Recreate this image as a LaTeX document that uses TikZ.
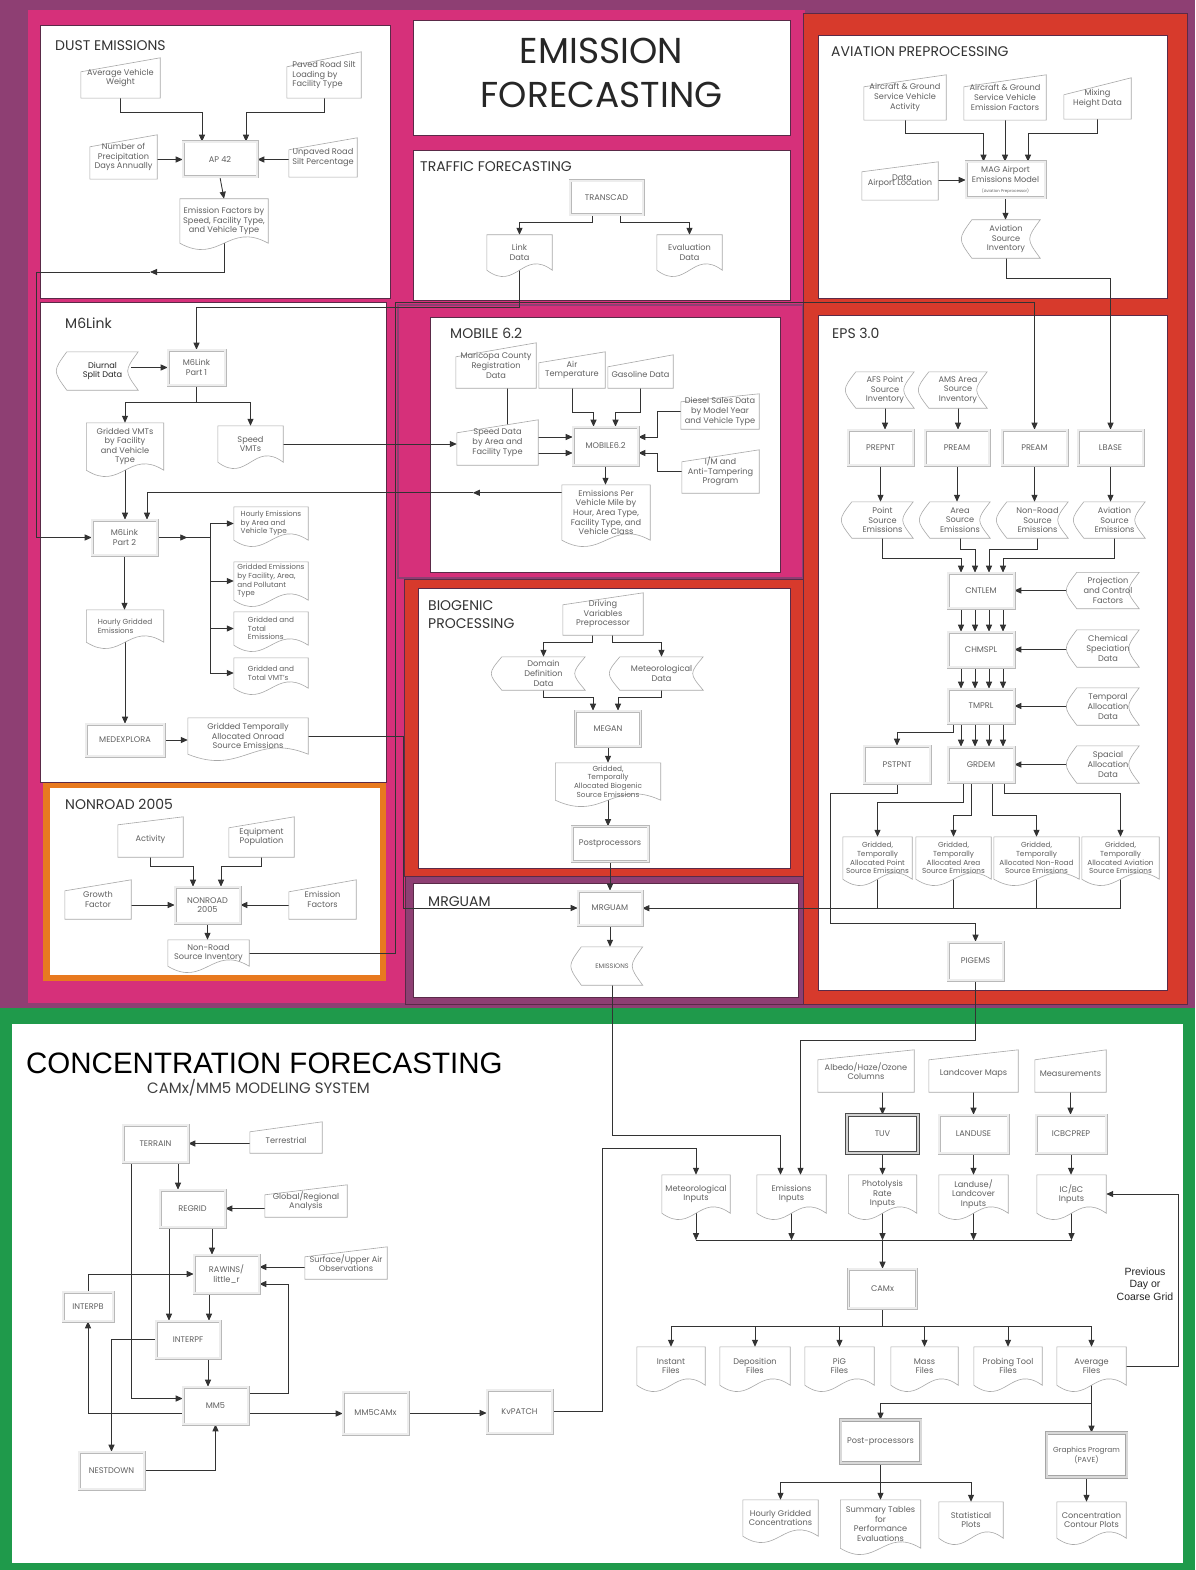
\documentclass[tikz,border=0pt]{standalone}
\usepackage{fontspec}
\setmainfont{Poppins}
\newfontfamily\arialf{Liberation Sans}
\usetikzlibrary{arrows.meta,calc}
\definecolor{purp}{HTML}{8E3F73}
\definecolor{pinkc}{HTML}{D6307A}
\definecolor{redc}{HTML}{D73A2C}
\definecolor{orangec}{HTML}{E8791F}
\definecolor{greenc}{HTML}{1F9A4B}
\definecolor{edgec}{HTML}{5A2A48}
\definecolor{txtc}{HTML}{606060}
\definecolor{linec}{HTML}{333333}
\definecolor{shpc}{HTML}{A8A8A8}
\pgfdeclarelayer{back}
\pgfdeclarelayer{conn}
\pgfdeclarelayer{shapes}
\pgfsetlayers{back,conn,shapes,main}
\begin{document}
\begin{tikzpicture}[x=1pt,y=-1pt,
 every node/.style={font=\fontsize{8.2}{9.6}\selectfont, text=txtc, align=center, inner sep=1pt},
 sz/.style 2 args={minimum width=#1pt, minimum height=#2pt},
 proc/.style={draw=gray!55, double=gray!14, double distance=1.9pt, line width=0.55pt, fill=white},
 procd/.style={draw=gray!70, double=gray!30, double distance=2pt, line width=0.6pt, fill=white},
 procdd/.style={draw=gray!60!black, double=gray!35, double distance=2pt, line width=0.6pt, fill=white},
 manin/.style={execute at begin node={\rule{0pt}{12pt}}},
 shp/.style={draw=shpc, line width=0.6pt, fill=white},
 arr/.style={draw=linec, line width=0.85pt, -{Triangle[length=7pt,width=6pt]}},
 ln/.style={draw=linec, line width=0.85pt},
 wbox/.style={fill=white, draw=edgec, line width=0.5pt},
 sect/.style={font=\fontsize{14}{18}\selectfont, text=black!80, anchor=base west, inner sep=0pt},
 lefttx/.style={align=left},
 small/.style={font=\fontsize{7.3}{8.6}\selectfont},
]
\useasboundingbox (0,0) rectangle (1195,1570);
% ---------------- backgrounds ----------------
\begin{pgfonlayer}{back}
\fill[purp] (0,0) rectangle (1195,1010);
\fill[pinkc] (28,10) rectangle (805,1003);
\draw[purp, line width=2pt, fill=pinkc] (398,305) rectangle (803,578);
\filldraw[fill=redc, draw=edgec, line width=0.5pt] (404,579) rectangle (808,876);
\filldraw[fill=purp, draw=edgec, line width=0.5pt] (405,876) rectangle (805,1004);
\filldraw[fill=redc, draw=edgec, line width=0.5pt] (803,13) rectangle (1187,1004);
\filldraw[wbox] (40,25) rectangle (390,298);
\filldraw[wbox] (413,20) rectangle (790,135);
\filldraw[wbox] (413,150) rectangle (790,300);
\filldraw[wbox] (818,35) rectangle (1167,298);
\filldraw[wbox] (40,302) rectangle (386,782);
\filldraw[wbox] (430,317) rectangle (780,572);
\filldraw[wbox] (418,588) rectangle (790,868);
\filldraw[wbox] (413,883) rectangle (798,997);
\filldraw[wbox] (818,315) rectangle (1167,990);
\fill[orangec] (43,783) rectangle (386,981);
\fill[white] (50,788) rectangle (380,975);
\fill[greenc] (0,1008) rectangle (1195,1570);
\fill[white] (12,1024) rectangle (1183,1563);
\end{pgfonlayer}

% ---------------- DUST ----------------
\node[sect] (tdust) at (55,51) {DUST EMISSIONS};
\node[manin,sz={79}{40}] (avw) at (120.5,78) {Average Vehicle\\Weight};
\node[manin,sz={74}{46},lefttx] (prs) at (324,75) {Paved Road Silt\\Loading by\\Facility Type};
\node[manin,sz={67}{44}] (npd) at (123.5,157) {Number of\\Precipitation\\Days Annually};
\node[manin,sz={68}{39}] (upr) at (323,157.5) {Unpaved Road\\Silt Percentage};
\node[proc,sz={74}{35}] (ap42) at (220,159.5) {AP 42};
\node[sz={88}{44}] (efs) at (224,221) {Emission Factors by\\Speed, Facility Type,\\and Vehicle Type};

% ---------------- TITLE / TRAFFIC ----------------
\node[font=\fontsize{36}{44}\selectfont, text=black!85] (tef) at (601.5,72.5) {EMISSION\\FORECASTING};
\node[sect] (ttraf) at (420,172) {TRAFFIC FORECASTING};
\node[proc,sz={73}{34}] (transcad) at (606.5,198) {TRANSCAD};
\node[sz={65}{35}] (linkd) at (519.5,252.5) {Link\\Data};
\node[sz={65}{35}] (evald) at (689.5,252.5) {Evaluation\\Data};

% ---------------- AVIATION ----------------
\node[sect] (tav) at (831,57) {AVIATION PREPROCESSING};
\node[manin,sz={82}{45}] (agsa) at (905,97.5) {Aircraft \& Ground\\Service Vehicle\\Activity};
\node[manin,sz={82}{45}] (agse) at (1005,97.5) {Aircraft \& Ground\\Service Vehicle\\Emission Factors};
\node[manin,sz={67}{41}] (mhd) at (1097.5,98.5) {Mixing\\Height Data};
\node[manin,sz={76}{38}] (apd) at (900,181) {Airport Location};
\node (apdx) at (902,178) {Data};
\node[proc,sz={79}{36}] (mag) at (1005.5,180) {MAG Airport\\Emissions Model\\{\fontsize{4}{5}\selectfont(Aviation Preprocessor)}};
\node[sz={68}{38}] (asi) at (1006,239) {Aviation\\Source\\Inventory};

% ---------------- M6LINK ----------------
\node[sect] (tm6) at (65,328) {M6Link};
\node[proc,sz={57}{35}] (m6p1) at (196.5,367.5) {M6Link\\Part 1};
\node[sz={71}{38}, text=black!85] (dsd) at (102.5,371) {Diurnal\\Split Data};
\node[sz={77}{47}] (gvmt) at (125,446.5) {Gridded VMTs\\by Facility\\and Vehicle\\Type};
\node[sz={65}{36}] (svmt) at (250.5,444) {Speed\\VMTs};
\node[proc,sz={65}{35}] (m6p2) at (124.5,537.5) {M6Link\\Part 2};
\node[lefttx,small,sz={74}{33}] (hev) at (271,523.5) {Hourly Emissions\\by Area and\\Vehicle Type};
\node[lefttx,small,sz={74}{38}] (gef) at (271,581) {Gridded Emissions\\by Facility, Area,\\and Pollutant\\Type};
\node[lefttx,small,sz={74}{33}] (gte) at (271,628.5) {Gridded and\\Total\\Emissions};
\node[lefttx,small,sz={74}{30}] (gtv) at (271,673) {Gridded and\\Total VMT's};
\node[lefttx,small,sz={77}{32}] (hge) at (125,626) {Hourly Gridded\\Emissions};
\node[proc,sz={78}{32}] (medx) at (125,740) {MEDEXPLORA};
\node[sz={120}{36}] (gtao) at (248,736) {Gridded Temporally\\Allocated Onroad\\Source Emissions};

% ---------------- NONROAD ----------------
\node[sect] (tnr) at (65,809) {NONROAD 2005};
\node[manin,sz={65}{40}] (act) at (150.5,837) {Activity};
\node[manin,sz={65}{40}] (eqp) at (261.5,837) {Equipment\\Population};
\node[manin,sz={66}{39}] (grf) at (98,899.5) {Growth\\Factor};
\node[proc,sz={65}{36}] (nr05) at (207.5,905) {NONROAD\\2005};
\node[manin,sz={67}{39}] (emf) at (322.5,899.5) {Emission\\Factors};
\node[sz={81}{26}] (nri) at (208.5,953) {Non-Road\\Source Inventory};

% ---------------- MOBILE ----------------
\node[sect] (tmob) at (450,338) {MOBILE 6.2};
\node[manin,sz={80}{45}] (mcr) at (496,365.5) {Maricopa County\\Registration\\Data};
\node[manin,sz={66}{36}] (airt) at (572,370) {Air\\Temperature};
\node[manin,sz={65}{33}] (gd) at (640.5,371.5) {Gasoline Data};
\node[manin,sz={78}{35}] (dsd2) at (720,411.5) {Diesel Sales Data\\by Model Year\\and Vehicle Type};
\node[manin,sz={81}{45}] (sdaf) at (497.5,442.5) {Speed Data\\by Area and\\Facility Type};
\node[proc,sz={65}{38}] (mob) at (605.5,446) {MOBILE6.2};
\node[manin,sz={77}{43}] (imat) at (720.5,471.5) {I/M and\\Anti-Tampering\\Program};
\node[sz={88}{55}] (epvm) at (606,512.5) {Emissions Per\\Vehicle Mile by\\Hour, Area Type,\\Facility Type, and\\Vehicle Class};

% ---------------- BIOGENIC ----------------
\node[sect] (tbio1) at (428,610) {BIOGENIC};
\node[sect] (tbio2) at (428,628) {PROCESSING};
\node[manin,sz={80}{42}] (dvp) at (603,614) {Driving\\Variables\\Preprocessor};
\node[sz={83}{33}] (ddd) at (543.5,673.5) {Domain\\Definition\\Data};
\node[sz={83}{33}] (md) at (661.5,673.5) {Meteorological\\Data};
\node[proc,sz={65}{35}] (megan) at (608,728.5) {MEGAN};
\node[small,sz={105}{37}] (gtab) at (608,781.5) {Gridded,\\Temporally\\Allocated Biogenic\\Source Emissions};
\node[proc,sz={76}{35}] (postp) at (610,844) {Postprocessors};

% ---------------- MRGUAM ----------------
\node[sect] (tmrg) at (428,906) {MRGUAM};
\node[proc,sz={64}{34}] (mrguam) at (610,908) {MRGUAM};
\node[sz={61}{38}, font=\fontsize{6.5}{7.5}\selectfont] (emis) at (612,966) {EMISSIONS};

% ---------------- EPS ----------------
\node[sect] (teps) at (832,338) {EPS 3.0};
\node[sz={58}{36}] (afs) at (885,390) {AFS Point\\Source\\Inventory};
\node[sz={58}{36}] (ams) at (958,390) {AMS Area\\Source\\Inventory};
\node[proc,sz={65}{35}] (prepnt) at (880.5,447.5) {PREPNT};
\node[proc,sz={64}{35}] (pream1) at (957,447.5) {PREAM};
\node[proc,sz={65}{35}] (pream2) at (1034.5,447.5) {PREAM};
\node[proc,sz={65}{35}] (lbase) at (1110.5,447.5) {LBASE};
\node[sz={61}{36}] (pse) at (882.5,520) {Point\\Source\\Emissions};
\node[sz={60}{36}] (ase) at (960,520) {Area\\Source\\Emissions};
\node[sz={61}{36}] (nse) at (1037.5,520) {Non-Road\\Source\\Emissions};
\node[sz={61}{36}] (avse) at (1114.5,520) {Aviation\\Source\\Emissions};
\node[proc,sz={66}{35}] (cntlem) at (981,590.5) {CNTLEM};
\node[sz={62}{36}] (pcf) at (1108,590.5) {Projection\\and Control\\Factors};
\node[proc,sz={66}{35}] (chmspl) at (981,649.5) {CHMSPL};
\node[sz={62}{37}] (csd) at (1108,648.5) {Chemical\\Speciation\\Data};
\node[proc,sz={66}{34}] (tmprl) at (981,706) {TMPRL};
\node[sz={62}{37}] (tad) at (1108,706.5) {Temporal\\Allocation\\Data};
\node[proc,sz={66}{35}] (grdem) at (981,764.5) {GRDEM};
\node[sz={62}{37}] (sad) at (1108,764.5) {Spacial\\Allocation\\Data};
\node[proc,sz={66}{37}] (pstpnt) at (897,764.5) {PSTPNT};
\node[small,sz={69}{42}] (gtp) at (877.5,858) {Gridded,\\Temporally\\Allocated Point\\Source Emissions};
\node[small,sz={75}{42}] (gta) at (953.5,858) {Gridded,\\Temporally\\Allocated Area\\Source Emissions};
\node[small,sz={85}{42}] (gtn) at (1036.5,858) {Gridded,\\Temporally\\Allocated Non-Road\\Source Emissions};
\node[small,sz={77}{42}] (gtav) at (1120.5,858) {Gridded,\\Temporally\\Allocated Aviation\\Source Emissions};
\node[proc,sz={55}{38}] (pigems) at (975.5,961) {PIGEMS};

% ---------------- CONCENTRATION ----------------
\node[font=\arialf\fontsize{29.5}{34}\selectfont, text=black, anchor=base west, inner sep=0pt] (tconc) at (26,1073) {CONCENTRATION FORECASTING};
\node[font=\fontsize{15}{18}\selectfont, text=black!75, anchor=base west, inner sep=0pt] (tcamx) at (147,1093) {CAMx/MM5 MODELING SYSTEM};
\node[proc,sz={65}{37}] (terrain) at (155.5,1143.5) {TERRAIN};
\node[manin,sz={72}{31}] (terr) at (286,1137.5) {Terrestrial};
\node[proc,sz={65}{37}] (regrid) at (192.5,1208.5) {REGRID};
\node[manin,sz={82}{32}] (gra) at (306,1201) {Global/Regional\\Analysis};
\node[proc,sz={65}{38}] (rawins) at (226.5,1274) {RAWINS/\\little\_r};
\node[manin,sz={82}{32}] (sua) at (346,1263) {Surface/Upper Air\\Observations};
\node[proc,sz={50}{29}] (interpb) at (88,1306.5) {INTERPB};
\node[proc,sz={64}{37}] (interpf) at (188,1339.5) {INTERPF};
\node[proc,sz={65}{37}] (mm5) at (215.5,1405.5) {MM5};
\node[proc,sz={65}{42}] (mm5camx) at (375.5,1413) {MM5CAMx};
\node[proc,sz={65}{43}] (kvpatch) at (519.5,1411.5) {KvPATCH};
\node[proc,sz={65}{37}] (nestdown) at (111.5,1470.5) {NESTDOWN};

\node[manin,sz={96}{42}] (alb) at (866,1071) {Albedo/Haze/Ozone\\Columns};
\node[manin,sz={89}{42}] (lcm) at (973.5,1071) {Landcover Maps};
\node[manin,sz={71}{42}] (meas) at (1070.5,1071) {Measurements};
\node[procdd,sz={71}{38}] (tuv) at (882.5,1134) {TUV};
\node[proc,sz={69}{38}] (landuse) at (973.5,1134) {LANDUSE};
\node[proc,sz={70}{38}] (icbcprep) at (1071,1134) {ICBCPREP};
\node[sz={68}{38}] (met) at (696,1194) {Meteorological\\Inputs};
\node[sz={69}{38}] (emi) at (791.5,1194) {Emissions\\Inputs};
\node[sz={68}{38}] (phot) at (882.5,1194) {Photolysis\\Rate\\Inputs};
\node[sz={69}{38}] (lui) at (973.5,1194) {Landuse/\\Landcover\\Inputs};
\node[sz={69}{38}] (icbc) at (1071.5,1194) {IC/BC\\Inputs};
\node[proc,sz={68}{39}] (camx) at (882.5,1288.5) {CAMx};
\node[sz={68}{38}] (instant) at (671,1366) {Instant\\Files};
\node[sz={70}{38}] (depo) at (755,1366) {Deposition\\Files};
\node[sz={69}{38}] (pig) at (839.5,1366) {PiG\\Files};
\node[sz={67}{38}] (mass) at (924.5,1366) {Mass\\Files};
\node[sz={68}{38}] (probe) at (1008,1366) {Probing Tool\\Files};
\node[sz={69}{38}] (avg) at (1091.5,1366) {Average\\Files};
\node[font=\arialf\fontsize{10.5}{12.5}\selectfont, text=black!85] (prevlbl) at (1145,1284) {Previous\\Day or\\Coarse Grid};
\node[procd,sz={80}{43}] (post) at (880.5,1441.5) {Post-processors};
\node[procd,small,sz={80}{44}] (gp) at (1086.5,1455) {Graphics Program\\(PAVE)};
\node[sz={75}{36}] (hgc) at (780.5,1518) {Hourly Gridded\\Concentrations};
\node[sz={80}{48}] (stp) at (880.5,1524) {Summary Tables\\for\\Performance\\Evaluations};
\node[sz={64}{36}] (stat) at (971,1520) {Statistical\\Plots};
\node[sz={69}{36}] (ccp) at (1091.5,1520) {Concentration\\Contour Plots};

% ---------------- shape outlines ----------------
\begin{pgfonlayer}{shapes}
\foreach \n/\s in {avw/14,prs/15,npd/12,upr/12,agsa/12,agse/12,mhd/17,apd/10,mcr/14,airt/11,gd/12,dsd2/8,sdaf/13,imat/12,dvp/12,act/8,eqp/11,grf/11,emf/12,alb/10,lcm/10,meas/10,terr/10,gra/10,sua/10}
  \draw[shp] (\n.south west) -- (\n.south east) -- (\n.north east) -- ($(\n.north west)+(0,\s)$) -- cycle;
\foreach \n in {efs,linkd,evald,gvmt,svmt,hev,gef,gte,gtv,hge,gtao,epvm,gtab,nri,gtp,gta,gtn,gtav,met,emi,phot,lui,icbc,instant,depo,pig,mass,probe,avg,hgc,stp,stat,ccp}
  \draw[shp] (\n.south west) -- (\n.north west) -- (\n.north east) -- (\n.south east)
    .. controls ($(\n.south west)!0.55!(\n.south east)+(0,-22)$) and ($(\n.south west)!0.45!(\n.south east)+(0,22)$) .. (\n.south west);
\foreach \n in {dsd,asi,afs,ams,pse,ase,nse,avse,pcf,csd,tad,sad,ddd,md,emis}
  \draw[shp] (\n.north west) -- (\n.north east) .. controls ($(\n.north east)!0.5!(\n.south east)+(-14,0)$) .. (\n.south east) -- (\n.south west) .. controls ($(\n.south west)!0.5!(\n.north west)+(-14,0)$) .. (\n.north west) -- cycle;
\end{pgfonlayer}

\begin{pgfonlayer}{conn}
% dust
\draw[arr] (avw.south) -- ++(0,14) -| ([xshift=-18pt]ap42.north);
\draw[arr] (prs.south) -- ++(0,14) -| ([xshift=26pt]ap42.north);
\draw[arr] (npd.east |- ap42) -- (ap42.west);
\draw[arr] (upr.west |- ap42) -- (ap42.east);
\draw[arr] (ap42.south) -- (efs.north);
\coordinate (dustmid) at (150,272);
\coordinate (dustL) at (36,272);
\draw[arr] (efs.south) |- (dustmid);
\draw[arr] (dustmid) -- (dustL) |- (m6p2.west);

% traffic
\draw[arr] ([xshift=-14.5pt]transcad.south) -- ++(0,7) -| (linkd.north);
\draw[arr] ([xshift=13.5pt]transcad.south) -- ++(0,7) -| (evald.north);
\draw[arr] (linkd.south) -- ++(0,37) -| (m6p1.north);

% aviation
\draw[arr] (agsa.south) -- ++(0,13) -| ([xshift=-22pt]mag.north);
\draw[arr] (agse.south) -- (agse.south |- mag.north);
\draw[arr] (mhd.south) -- ++(0,14) -| ([xshift=22.5pt]mag.north);
\draw[arr] (apd.east |- mag) -- (mag.west);
\draw[arr] (mag.south) -- (mag.south |- asi.north);
\draw[arr] (asi.south) -- ++(0,20) -| (lbase.north);

% m6link
\draw[arr] ([xshift=-7pt]dsd.east |- m6p1) -- (m6p1.west);
\draw[arr] (m6p1.south) -- ++(0,17) -| (gvmt.north);
\draw[arr] (m6p1.south) -- ++(0,17) -| (svmt.north);
\draw[arr] (svmt.east) -- (svmt.east -| sdaf.west);
\draw[arr] (gvmt.south) -- (gvmt.south |- m6p2.north);
\coordinate (epvmout) at ($(epvm.north west)+(0,8)$);
\coordinate (epvmmid) at ($(epvmout)+(-89,0)$);
\draw[arr] (epvmout) -- (epvmmid);
\draw[arr] (epvmmid) -| ([xshift=22.5pt]m6p2.north);
\draw[arr] (m6p2.east) -- ++(30,0);
\draw[ln] (m6p2.east) -- ++(53,0) coordinate (m6bus);
\draw[ln] (m6bus |- hev.west) -- (m6bus |- gtv.west);
\foreach \d in {hev,gef,gte,gtv} \draw[arr] (m6bus |- \d.west) -- (\d.west);
\draw[arr] (m6p2.south) -- (m6p2.south |- hge.north);
\draw[arr] (hge.south) -- (hge.south |- medx.north);
\draw[arr] (medx.east) -- (medx.east -| gtao.west);
\draw[arr] (gtao.east) -- ++(95,0) |- (mrguam.west);

% nonroad
\draw[arr] (act.south) -- ++(0,9) -| ([xshift=-14.5pt]nr05.north);
\draw[arr] (eqp.south) -- ++(0,9) -| ([xshift=13.5pt]nr05.north);
\draw[arr] (grf.east |- nr05) -- (nr05.west);
\draw[arr] (emf.west |- nr05) -- (nr05.east);
\draw[arr] (nr05.south) -- (nr05.south |- nri.north);
\coordinate (nrturn) at (395,302);
\draw[arr] (nri.east) -| (nrturn) -| (pream2.north);

% mobile
\draw[arr] ([xshift=11pt]mcr.south) |- ([yshift=9pt]mob.west);
\draw[arr] ([yshift=-7pt]mob.west -| sdaf.east) -- ([yshift=-7pt]mob.west);
\draw[arr] (airt.south) -- ++(0,24) -| ([xshift=-12pt]mob.north);
\draw[arr] (gd.south) -- ++(0,24) -| ([xshift=10pt]mob.north);
\draw[arr] (dsd2.west) -- ++(-23,0) |- ([yshift=9pt]mob.east);
\draw[arr] (imat.west) -- ++(-24,0) |- ([yshift=-7pt]mob.east);
\draw[arr] (mob.south) -- (mob.south |- epvm.north);

% biogenic
\draw[arr] ([xshift=-11pt]dvp.south) -- ++(0,7) -| (ddd.north);
\draw[arr] ([xshift=9pt]dvp.south) -- ++(0,7) -| (md.north);
\draw[arr] (ddd.south) -- ++(0,7) -| ([xshift=-15pt]megan.north);
\draw[arr] (md.south) -- ++(0,7) -| ([xshift=10pt]megan.north);
\draw[arr] (megan.south) -- (megan.south |- gtab.north);
\draw[arr] (gtab.south) -- (gtab.south |- postp.north);
\draw[arr] (postp.south) -- (postp.south |- mrguam.north);
\draw[arr] (mrguam.south) -- (mrguam.south |- emis.north);

% eps
\draw[arr] (afs.south) -- (afs.south |- prepnt.north);
\draw[arr] (ams.south) -- (ams.south |- pream1.north);
\draw[arr] (prepnt.south) -- (prepnt.south |- pse.north);
\draw[arr] (pream1.south) -- (pream1.south |- ase.north);
\draw[arr] (pream2.south) -- (pream2.south |- nse.north);
\draw[arr] (lbase.south) -- (lbase.south |- avse.north);
\draw[arr] (pse.south) -- ++(0,20) -| ([xshift=-20pt]cntlem.north);
\draw[arr] (ase.south) -- ++(0,11) -| ([xshift=-6pt]cntlem.north);
\draw[arr] (nse.south) -- ++(0,11) -| ([xshift=8pt]cntlem.north);
\draw[arr] (avse.south) -- ++(0,20) -| ([xshift=22pt]cntlem.north);
\draw[arr] ([xshift=-7pt]pcf.west) -- (cntlem.east);
\draw[arr] ([xshift=-7pt]csd.west |- chmspl) -- (chmspl.east);
\draw[arr] ([xshift=-7pt]tad.west |- tmprl) -- (tmprl.east);
\draw[arr] ([xshift=-7pt]sad.west |- grdem) -- (grdem.east);
\foreach \o in {-20,-6,8,22} {
  \draw[arr] ([xshift=\o pt]cntlem.south) -- ([xshift=\o pt]chmspl.north);
  \draw[arr] ([xshift=\o pt]chmspl.south) -- ([xshift=\o pt]tmprl.north);
  \draw[arr] ([xshift=\o pt]tmprl.south) -- ([xshift=\o pt]grdem.north);
}
\draw[arr] ([xshift=-28pt]tmprl.south) -- ++(0,9) -| (pstpnt.north);
\draw[arr] ([xshift=-18pt]grdem.south) -- ++(0,20) -| (gtp.north);
\draw[arr] ([xshift=-10pt]grdem.south) -- ++(0,33) -| (gta.north);
\draw[arr] ([xshift=11pt]grdem.south) -- ++(0,33) -| (gtn.north);
\draw[arr] ([xshift=23pt]grdem.south) -- ++(0,11) -| (gtav.north);
\draw[ln] (gtav.south) -- ++(0,29) coordinate (epsbus);
\foreach \d in {gtp,gta,gtn} \draw[ln] (\d.south) -- (\d.south |- epsbus);
\draw[arr] (epsbus) -- (epsbus -| mrguam.east);
\draw[arr] (pstpnt.south) -- ++(0,10) -- ++(-67,0) -- ++(0,130) -| (pigems.north);
\draw[arr] (pigems.south) -- ++(0,60) -| ([xshift=9pt]emi.north);
\draw[arr] (emis.south) -- ++(0,150) -| ([xshift=-11pt]emi.north);

% concentration left
\draw[arr] (terr.west |- terrain) -- (terrain.east);
\draw[arr] ([xshift=22.5pt]terrain.south) -- ([xshift=22.5pt]terrain.south |- regrid.north);
\draw[arr] ([xshift=-24.5pt]terrain.south) |- ([yshift=7pt]mm5.west);
\draw[arr] (gra.west |- regrid) -- (regrid.east);
\draw[arr] ([xshift=19.5pt]regrid.south) -- ([xshift=19.5pt]regrid.south |- rawins.north);
\draw[arr] ([xshift=-23.5pt]regrid.south) -- ([xshift=-23.5pt]regrid.south |- interpf.north);
\draw[arr] ([yshift=7pt]rawins.east -| sua.west) -- ([yshift=7pt]rawins.east);
\draw[arr] (interpb.north) |- (rawins.west);
\draw[arr] ([xshift=-17.5pt]rawins.south) -- ([xshift=-17.5pt]rawins.south |- interpf.north);
\draw[arr] ([yshift=12.5pt]mm5.east) -- ++(40,0) |- ([yshift=-10pt]rawins.east);
\draw[arr] ([xshift=20pt]interpf.south) -- ([xshift=20pt]interpf.south |- mm5.north);
\draw[arr] (interpf.west) -| (nestdown.north);
\draw[arr] ([yshift=-8pt]mm5.west) -| (interpb.south);
\draw[arr] (nestdown.east) -| (mm5.south);
\draw[arr] ([yshift=-8pt]mm5.east) -- ([yshift=-8pt]mm5.east -| mm5camx.west);
\draw[arr] (mm5camx.east) -- (mm5camx.east -| kvpatch.west);
\draw[arr] (kvpatch.east) -- ++(50,0) |- ([yshift=26pt]met.north) -- (met.north);

% concentration right
\draw[arr] (tuv.north |- alb.south) -- (tuv.north);
\draw[arr] (lcm.south) -- (landuse.north);
\draw[arr] (meas.south) -- (meas.south |- icbcprep.north);
\draw[arr] (tuv.south) -- (tuv.south |- phot.north);
\draw[arr] (landuse.south) -- (lui.north);
\draw[arr] (icbcprep.south) -- (icbcprep.south |- icbc.north);
\foreach \d in {met,emi,phot,lui,icbc} \draw[arr] (\d.south) -- ++(0,27);
\draw[ln] ($(met.south)+(0,27)$) -- ($(icbc.south)+(0,27)$);
\draw[arr] ($(phot.south)+(0,27)$) -- (camx.north);
\draw[ln] (camx.south) -- ++(0,18) coordinate (cbus);
\draw[ln] (cbus -| instant.north) -- (cbus -| avg.north);
\foreach \d in {instant,depo,pig,mass,probe,avg} \draw[arr] (cbus -| \d.north) -- (\d.north);
\draw[arr] (avg.east) -- ++(52,0) |- (icbc.east);
\draw[arr] (avg.south) -- (avg.south |- gp.north);
\draw[arr] (avg.south) -- ++(0,18) -| (post.north);
\draw[ln] (post.south) -- ++(0,19) coordinate (pbus);
\draw[ln] (pbus -| hgc.north) -- (pbus -| stat.north);
\foreach \d in {hgc,stp,stat} \draw[arr] (pbus -| \d.north) -- (\d.north);
\draw[arr] (gp.south) -- (gp.south |- ccp.north);
\end{pgfonlayer}
\end{tikzpicture}
\end{document}
